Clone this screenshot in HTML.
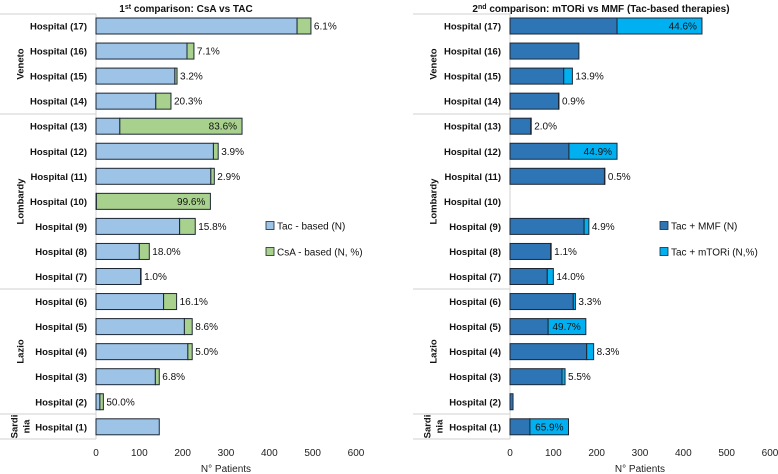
<!DOCTYPE html>
<html><head><meta charset="utf-8">
<style>
html,body{margin:0;padding:0;background:#fff;}
svg{display:block;font-family:"Liberation Sans",sans-serif;}
.hl{font-size:9.5px;font-weight:bold;fill:#111;}
.tk{font-size:10px;fill:#222;}
.pl{font-size:10px;fill:#111;}
</style></head>
<body>
<svg id="c" width="778" height="474" viewBox="0 0 778 474" xmlns="http://www.w3.org/2000/svg"></svg>
<script>
const hospitals = ["Hospital (17)","Hospital (16)","Hospital (15)","Hospital (14)","Hospital (13)","Hospital (12)","Hospital (11)","Hospital (10)","Hospital (9)","Hospital (8)","Hospital (7)","Hospital (6)","Hospital (5)","Hospital (4)","Hospital (3)","Hospital (2)","Hospital (1)"];
const regions = ["Veneto","Lombardy","Lazio","Sardinia"];
const regionSizes = [4,7,5,1];
const ticks = [0,100,200,300,400,500,600];
// Left: Tac-based, CsA-based
const leftTac = [464,210,182,138,55,271,265,1,193,100,103,156,204,212,137,9,146];
const leftCsa = [32,16,5,35,282,11,8,263,36,23,1,30,18,10,9,8,0];
const leftLbl = ["6.1%","7.1%","3.2%","20.3%","83.6%","3.9%","2.9%","99.6%","15.8%","18.0%","1.0%","16.1%","8.6%","5.0%","6.8%","50.0%",""];
const leftInside = [0,0,0,0,1,0,0,1,0,0,0,0,0,0,0,0,0];
// Right: Tac+MMF, Tac+mTORi
const rightMmf = [247,159,124,112,48,136,218,0,171,94,86,146,88,177,120,7,46];
const rightMtor = [196,0,20,1,1,111,1,0,11,1,14,5,87,16,7,0,89];
const rightLbl = ["44.6%","","13.9%","0.9%","2.0%","44.9%","0.5%","","4.9%","1.1%","14.0%","3.3%","49.7%","8.3%","5.5%","","65.9%"];
const rightInside = [1,0,0,0,0,1,0,0,0,0,0,0,1,0,0,0,1];

const NS="http://www.w3.org/2000/svg";
const svg=document.getElementById('c');
function mk(tag,attrs,parent){const e=document.createElementNS(NS,tag);for(const k in attrs)e.setAttribute(k,attrs[k]);(parent||svg).appendChild(e);return e;}

const rowY = i => 26 + i*25.05;
const BH = 16;

function panel(cfg){
  const g=mk('g',{});
  
  
  const xs = v => cfg.x0 + v*cfg.scale;
  // title
  const t=mk('text',{x:cfg.titleX,y:12,'text-anchor':'middle',style:'font-size:10px;font-weight:bold;fill:#111'},g);
  t.innerHTML=cfg.title;
  
  
  // region frame
  const top=14, bottom=439;
  let bounds=[top]; let acc=0;
  regionSizes.forEach(s=>{acc+=s;bounds.push(top+acc*25);});
  bounds[bounds.length-1]=bottom;
  bounds.forEach((b,i)=>{const l=mk('line',{x1:cfg.frameX,x2:cfg.x0,y1:b,y2:b,stroke:'#d0d0d0','stroke-width':1},g);
    });
  const vl=mk('line',{x1:cfg.x0,x2:cfg.x0,y1:top,y2:bottom,stroke:'#d0d0d0','stroke-width':1},g);
  
  regions.forEach((r,i)=>{
    const cy=(bounds[i]+bounds[i+1])/2;
    if(r==="Sardinia"){
      [["Sardi",cfg.regX-6],["nia",cfg.regX+6]].forEach(p=>{
        const tt=mk('text',{x:p[1],y:cy,'text-anchor':'middle',class:'hl',transform:`rotate(-90 ${p[1]} ${cy})`,dy:'3.5'},g);
        tt.textContent=p[0];
        
      });
    } else {
      const tt=mk('text',{x:cfg.regX,y:cy,'text-anchor':'middle',class:'hl',transform:`rotate(-90 ${cfg.regX} ${cy})`,dy:'3.5'},g);
      tt.textContent=r;
      
    }
  });
  // bars
  hospitals.forEach((h,i)=>{
    const y=rowY(i);
    const hl=mk('text',{x:cfg.x0-9,y:y+3.5,'text-anchor':'end',class:'hl'},g);
    hl.textContent=h;
    
    const a=cfg.a[i], b=cfg.b[i];
    if(a>0){const r=mk('rect',{x:xs(0),y:y-BH/2,width:a*cfg.scale,height:BH,fill:cfg.ca,stroke:'#1d2733','stroke-width':1},g);
      }
    if(b>0){const r=mk('rect',{x:xs(a),y:y-BH/2,width:b*cfg.scale,height:BH,fill:cfg.cb,stroke:'#1d2733','stroke-width':1},g);
      }
    if(cfg.lbl[i]){
      const end=xs(a+b);
      const inside=cfg.inside[i];
      const tx=mk('text',{x:inside?end-5:end+3,y:y+3.5,'text-anchor':inside?'end':'start',class:'pl'},g);
      tx.textContent=cfg.lbl[i];
      
    }
  });
  // ticks
  ticks.forEach(v=>{const tt=mk('text',{x:xs(v),y:456,'text-anchor':'middle',class:'tk'},g);
    tt.textContent=v;});
  const xt=mk('text',{x:xs(300),y:472,'text-anchor':'middle',class:'tk'},g);
  xt.textContent='N° Patients';
  
  // legend
  [[cfg.ca,cfg.la,226],[cfg.cb,cfg.lb,252]].forEach(L=>{
    const r=mk('rect',{x:cfg.legX,y:L[2]-4.5,width:8,height:8,fill:L[0],stroke:'#1d2733','stroke-width':0.8},g);
    
    const tt=mk('text',{x:cfg.legX+11,y:L[2]+3.5,class:'pl'},g);
    tt.textContent=L[1];
    
  });
}
panel({name:'left-panel',x0:96,scale:260/600,titleX:186,title:'1<tspan dy="-3" style="font-size:7px">st</tspan><tspan dy="3"> comparison: CsA vs TAC</tspan>',
  frameX:0,regX:20,a:leftTac,b:leftCsa,lbl:leftLbl,inside:leftInside,ca:'#9dc3e6',cb:'#a9d18e',sa:'tac',sb:'csa',
  la:'Tac - based (N)',lb:'CsA - based (N, %)',legX:266});
panel({name:'right-panel',x0:510,scale:260/600,titleX:601,title:'2<tspan dy="-3" style="font-size:7px">nd</tspan><tspan dy="3"> comparison: mTORi  vs MMF (Tac-based therapies)</tspan>',
  frameX:413,regX:433,a:rightMmf,b:rightMtor,lbl:rightLbl,inside:rightInside,ca:'#2e75b6',cb:'#00b0f0',sa:'mmf',sb:'mtori',
  la:'Tac + MMF (N)',lb:'Tac + mTORi (N,%)',legX:660});
</script>
</body></html>
